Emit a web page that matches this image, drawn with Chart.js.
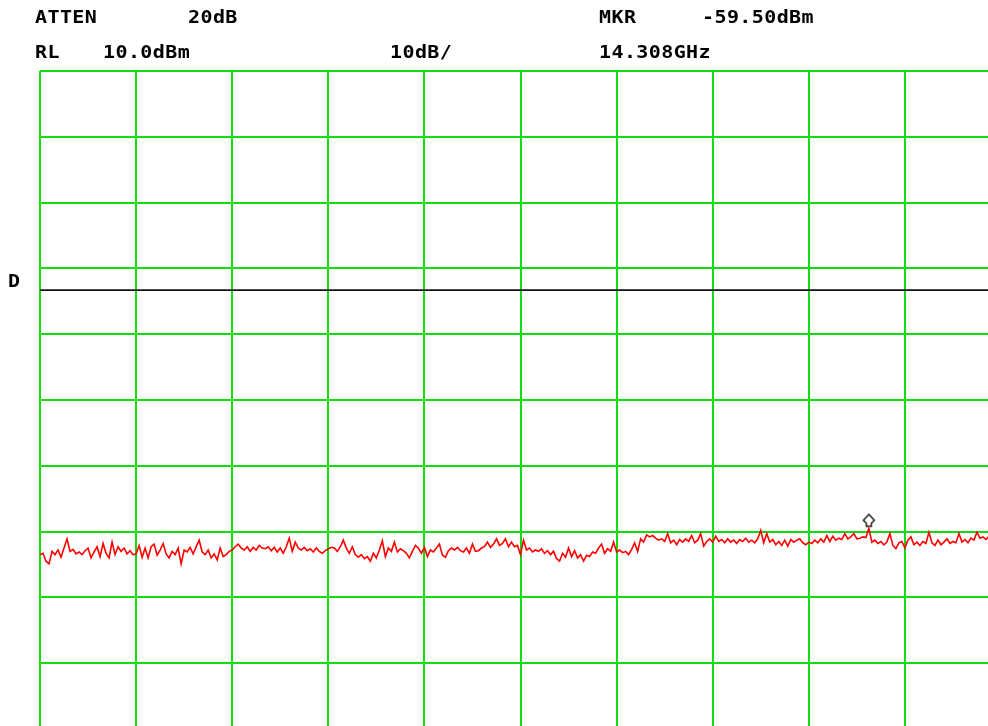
<!DOCTYPE html>
<html>
<head>
<meta charset="utf-8">
<script src="https://cdn.jsdelivr.net/npm/chart.js@4.4.1/dist/chart.umd.min.js"></script>
<style>
  html, body { margin: 0; padding: 0; background: #fff; overflow: hidden; width: 988px; height: 726px; }
  #wrap { position: absolute; left: 0; top: 0; width: 1010px; height: 740px; }
  canvas { position: absolute; left: 0; top: 0; }
  .lbl { position: absolute; font-family: "DejaVu Sans Mono", monospace; font-weight: bold; font-size: 20px; letter-spacing: 0.4px; color: #000; line-height: 20px; white-space: pre; transform: scaleY(0.85); transform-origin: 0 0; }
</style>
</head>
<body>
<div id="wrap">
  <canvas id="c" width="1010" height="740"></canvas>
</div>
<div class="lbl" style="left:35px; top:9px;">ATTEN</div>
<div class="lbl" style="left:188px; top:9px;">20dB</div>
<div class="lbl" style="left:599px; top:9px;">MKR</div>
<div class="lbl" style="left:702px; top:9px;">-59.50dBm</div>
<div class="lbl" style="left:35px; top:44px;">RL</div>
<div class="lbl" style="left:103px; top:44px;">10.0dBm</div>
<div class="lbl" style="left:390px; top:44px;">10dB/</div>
<div class="lbl" style="left:599px; top:44px;">14.308GHz</div>
<div class="lbl" style="left:8px; top:273px;">D</div>
<script>
// Reference level / scale (dBm)
const refLevelDbm = 10;
const bottomDbm = -90;
const dbPerDiv = 10;
const xDivisions = 10;

// Trace amplitude (dBm), left to right
const traceA = [
  -63.5, -63.3, -64.5, -64.9, -63.0, -63.5, -62.8, -63.9, -62.5, -61.1,
  -63.0, -62.7, -63.4, -63.1, -63.5, -62.9, -62.5, -64.0, -63.1, -62.3,
  -63.8, -61.8, -63.3, -64.0, -61.6, -63.5, -62.3, -63.0, -62.5, -63.4,
  -62.9, -63.5, -63.4, -62.1, -63.9, -62.5, -64.0, -62.3, -61.9, -63.6,
  -62.8, -61.8, -63.4, -64.0, -63.0, -63.5, -62.5, -64.9, -62.8, -63.1,
  -62.4, -63.4, -62.3, -61.3, -63.1, -63.5, -62.8, -64.0, -63.4, -64.3,
  -62.5, -63.8, -63.5, -63.0
];
const traceB = [
  -62.8, -62.3, -61.9, -62.5, -62.8, -62.3, -63.0, -62.4, -62.8, -62.1,
  -62.5, -62.6, -62.3, -62.9, -62.4, -63.1, -62.5, -63.3, -62.3, -61.0,
  -63.0, -61.6, -62.5, -62.8, -62.4, -62.9, -62.6, -63.1, -62.5, -63.0,
  -63.3, -62.9, -62.6, -62.4, -62.5, -63.0, -62.3, -61.3, -62.5, -63.3,
  -62.3, -63.5, -63.9, -63.5, -64.1, -63.8, -64.5, -63.3, -64.0, -62.8,
  -61.4, -63.8, -62.5, -63.0, -61.6, -63.1, -62.6, -62.9, -63.3, -64.0,
  -63.0, -62.1
];
const traceC = [
  -62.5, -63.3, -62.4, -63.8, -62.8, -63.1, -62.5, -61.9, -63.6, -63.9,
  -62.9, -62.5, -62.8, -62.4, -62.9, -63.1, -62.5, -63.3, -61.9, -63.0,
  -62.9, -62.5, -62.3, -61.6, -62.4, -61.9, -61.1, -62.1, -61.8, -61.1,
  -62.3, -61.6, -62.3, -62.1, -63.5, -61.3, -62.8, -62.5, -63.1, -62.8,
  -63.0, -62.6, -63.3, -62.9, -63.5, -63.0, -64.1, -64.5, -63.3, -63.9,
  -62.5, -63.8, -62.9, -64.0, -63.5, -64.5, -63.6, -63.8, -63.1, -63.3,
  -62.5, -61.9, -63.3
];
const traceD = [
  -62.6, -63.0, -61.6, -63.1, -62.8, -63.2, -63.0, -63.5, -62.7, -61.7,
  -63.0, -61.1, -61.6, -60.5, -60.8, -60.6, -61.0, -61.3, -61.1, -61.5,
  -60.3, -61.7, -61.3, -62.0, -61.2, -61.6, -61.1, -61.5, -60.6, -61.7,
  -61.3, -60.3, -62.2, -61.5, -61.1, -61.6, -60.7, -61.5, -61.2, -61.7,
  -61.1, -61.6, -61.3, -61.8, -61.2, -61.5, -61.0, -61.6, -61.3, -61.7,
  -61.1, -59.8, -61.7, -60.3, -61.6, -61.2, -62.0, -61.5, -62.1, -61.3,
  -62.2, -61.2, -61.6
];
const traceE = [
  -61.3, -61.1, -61.7, -62.0, -61.6, -61.8, -61.3, -61.7, -61.1, -61.6,
  -60.6, -61.5, -60.7, -61.3, -61.0, -61.2, -60.3, -61.1, -60.8, -60.3,
  -61.1, -61.0, -60.8, -60.9, -59.5, -61.6, -61.3, -61.8, -61.5, -62.0,
  -61.6, -60.3, -62.1, -62.6, -61.7, -61.5, -62.5, -61.3, -60.8, -62.0,
  -61.6, -62.1, -61.5, -61.8, -60.1, -61.7, -62.1, -61.3, -62.0, -61.6,
  -61.1, -61.8, -61.5, -61.7, -60.3, -61.6, -61.2, -61.7, -61.0, -61.3,
  -60.1, -61.0, -60.8, -61.2, -60.7, -61.5, -61.0, -61.3, -61.1
];

// Marker and display line
const markerIndex = 276;
const markerDbm = -59.5;
const displayLineDbm = -23.3;

const trace = [].concat(traceA, traceB, traceC, traceD, traceE);
const lastIndex = trace.length - 1;
const tracePoints = trace.map((v, i) => ({ x: i, y: v }));

// marker glyph (diamond-arrow above the marked point)
const mk = document.createElement('canvas');
mk.width = 16; mk.height = 32;
(function () {
  const g = mk.getContext('2d');
  g.beginPath();
  g.moveTo(8, 2);
  g.lineTo(13.5, 8);
  g.lineTo(10.5, 11);
  g.lineTo(10.5, 14);
  g.lineTo(5.5, 14);
  g.lineTo(5.5, 11);
  g.lineTo(2.5, 8);
  g.closePath();
  g.fillStyle = '#fff';
  g.fill();
  g.lineWidth = 1.5;
  g.strokeStyle = '#222';
  g.stroke();
})();

const gridGreen = 'rgb(16,220,16)';

new Chart(document.getElementById('c'), {
  type: 'line',
  data: {
    datasets: [
      {
        label: 'display line',
        data: [{ x: 0, y: displayLineDbm }, { x: lastIndex, y: displayLineDbm }],
        borderColor: '#111',
        borderWidth: 1.6,
        pointRadius: 0,
        tension: 0
      },
      {
        label: 'trace',
        data: tracePoints,
        borderColor: '#ff0000',
        borderWidth: 1.6,
        pointRadius: 0,
        tension: 0
      },
      {
        label: 'marker',
        data: [{ x: markerIndex, y: markerDbm }],
        showLine: false,
        pointStyle: mk,
        pointRadius: 8,
        borderColor: '#222'
      }
    ]
  },
  options: {
    responsive: false,
    animation: false,
    devicePixelRatio: 1,
    layout: { padding: { left: 40, top: 71, right: 7, bottom: 11 } },
    plugins: { legend: { display: false }, tooltip: { enabled: false }, title: { display: false } },
    scales: {
      x: {
        type: 'linear',
        min: 0,
        max: lastIndex,
        ticks: { display: false, stepSize: lastIndex / xDivisions },
        grid: { color: gridGreen, lineWidth: 2, drawTicks: false },
        border: { display: false }
      },
      y: {
        type: 'linear',
        min: bottomDbm,
        max: refLevelDbm,
        ticks: { display: false, stepSize: dbPerDiv },
        grid: { color: gridGreen, lineWidth: 2, drawTicks: false },
        border: { display: false }
      }
    }
  }
});
</script>
</body>
</html>
